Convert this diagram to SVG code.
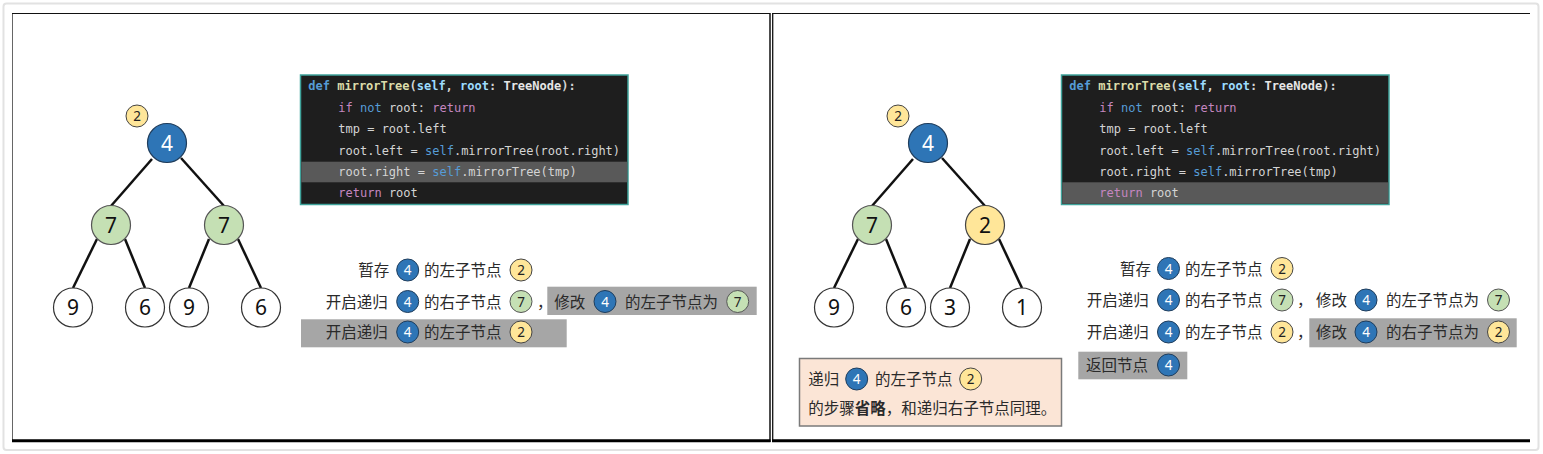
<svg xmlns="http://www.w3.org/2000/svg" xmlns:xlink="http://www.w3.org/1999/xlink" width="1543" height="454" viewBox="0 0 1543 454">
<style>
.frame{fill:#fff;stroke:#e2e2e2;stroke-width:2}
.edge{stroke:#111;stroke-width:2.5;fill:none}
.big{stroke-width:1.2}
.blue{fill:#2e75b6;stroke:#1f3d5c}
.green{fill:#c5e0b4;stroke:#555}
.yellow{fill:#ffe699;stroke:#444}
.white{fill:#fff;stroke:#333}
.sm{stroke-width:1}
.num{font-family:"Noto Sans","Open Sans",sans-serif;font-size:21px;text-anchor:middle;fill:#111}
.num.w{fill:#fff}
.snum{font-family:"Noto Sans","Open Sans",sans-serif;font-size:13.5px;text-anchor:middle;fill:#222}
.snum.w{fill:#fff}
.cn{font-family:"Noto Sans CJK SC",sans-serif;font-size:15.5px;fill:#2a2a2a}
.hl{fill:#a6a6a6}
.code{font-family:"DejaVu Sans Mono","Liberation Mono",monospace;font-size:12px;fill:#d4d4d4}
.b{font-weight:bold}
.kw{fill:#569cd6}
.fn{fill:#dcdcaa}
.pa{fill:#9cdcfe}
.ty{fill:#e6e6e6}
.ctl{fill:#c586c0}
.codebox{fill:#1e1e1e;stroke:#3fa39b;stroke-width:1.5}
.rowhl{fill:#595959}
.note{fill:#fbe5d6;stroke:#7a7a7a;stroke-width:1.5}
</style>
<defs>
<g id="codeText" class="code" xml:space="preserve">
<text x="308.3" y="90" class="b"><tspan class="kw">def</tspan> <tspan class="fn">mirrorTree</tspan>(<tspan class="pa">self</tspan>, <tspan class="pa">root</tspan>: <tspan class="ty">TreeNode</tspan>):</text>
<text x="338.3" y="111.5"><tspan class="ctl">if</tspan> <tspan class="kw">not</tspan> root: <tspan class="ctl">return</tspan></text>
<text x="338.3" y="133">tmp = root.left</text>
<text x="338.3" y="154.5">root.left = <tspan class="kw">self</tspan>.mirrorTree(root.right)</text>
<text x="338.3" y="176">root.right = <tspan class="kw">self</tspan>.mirrorTree(tmp)</text>
<text x="338.3" y="197"><tspan class="ctl">return</tspan> root</text>
</g>
</defs>

<rect class="frame" x="3.5" y="3.5" width="1535" height="446.5" rx="3"/>

<!-- panels -->
<g id="panels">
<line x1="12.5" y1="13.5" x2="12.5" y2="440" stroke="#666" stroke-width="1"/>
<line x1="12" y1="13.5" x2="770" y2="13.5" stroke="#111" stroke-width="1"/>
<line x1="770" y1="13" x2="770" y2="442" stroke="#111" stroke-width="1.5"/>
<line x1="12" y1="440.7" x2="770.5" y2="440.7" stroke="#000" stroke-width="3"/>
<line x1="772.7" y1="13" x2="772.7" y2="440" stroke="#111" stroke-width="1.3"/>
<line x1="772" y1="13.5" x2="1530" y2="13.5" stroke="#111" stroke-width="1"/>
<line x1="772" y1="440.7" x2="1530" y2="440.7" stroke="#000" stroke-width="3"/>
</g>

<!-- connectors -->
<g id="connectors" class="edge">
<line x1="152" y1="159" x2="111" y2="206"/>
<line x1="181" y1="158" x2="224" y2="206"/>
<line x1="97" y1="239" x2="73" y2="288"/>
<line x1="125" y1="239" x2="145" y2="288"/>
<line x1="209" y1="239" x2="189" y2="288"/>
<line x1="238" y1="239" x2="261" y2="288"/>
<line x1="913" y1="159" x2="872" y2="206"/>
<line x1="942" y1="158" x2="985" y2="206"/>
<line x1="858" y1="239" x2="834" y2="288"/>
<line x1="886" y1="239" x2="906" y2="288"/>
<line x1="970" y1="239" x2="950" y2="288"/>
<line x1="999" y1="239" x2="1022" y2="288"/>
</g>

<!-- left tree -->
<g id="L-tmp"><circle class="yellow sm" cx="137" cy="116" r="11"/><text class="snum" x="137" y="121">2</text></g>
<g id="L-n4"><circle class="blue big" cx="167" cy="143" r="19.5"/><text class="num w" x="167" y="150.5">4</text></g>
<g id="L-n7a"><circle class="green big" cx="111" cy="225" r="19.5"/><text class="num" x="111" y="232.5">7</text></g>
<g id="L-n7b"><circle class="green big" cx="224" cy="225" r="19.5"/><text class="num" x="224" y="232.5">7</text></g>
<g id="L-n9a"><circle class="white big" cx="73" cy="307.5" r="19.5"/><text class="num" x="73" y="315">9</text></g>
<g id="L-n6a"><circle class="white big" cx="145" cy="307.5" r="19.5"/><text class="num" x="145" y="315">6</text></g>
<g id="L-n9b"><circle class="white big" cx="189" cy="307.5" r="19.5"/><text class="num" x="189" y="315">9</text></g>
<g id="L-n6b"><circle class="white big" cx="261" cy="307.5" r="19.5"/><text class="num" x="261" y="315">6</text></g>

<!-- right tree -->
<g id="R-tmp"><circle class="yellow sm" cx="898" cy="116" r="11"/><text class="snum" x="898" y="121">2</text></g>
<g id="R-n4"><circle class="blue big" cx="928" cy="143" r="19.5"/><text class="num w" x="928" y="150.5">4</text></g>
<g id="R-n7"><circle class="green big" cx="872" cy="225" r="19.5"/><text class="num" x="872" y="232.5">7</text></g>
<g id="R-n2"><circle class="yellow big" cx="985" cy="225" r="19.5"/><text class="num" x="985" y="232.5">2</text></g>
<g id="R-n9"><circle class="white big" cx="834" cy="307.5" r="19.5"/><text class="num" x="834" y="315">9</text></g>
<g id="R-n6"><circle class="white big" cx="906" cy="307.5" r="19.5"/><text class="num" x="906" y="315">6</text></g>
<g id="R-n3"><circle class="white big" cx="950" cy="307.5" r="19.5"/><text class="num" x="950" y="315">3</text></g>
<g id="R-n1"><circle class="white big" cx="1022" cy="307.5" r="19.5"/><text class="num" x="1022" y="315">1</text></g>

<!-- left code -->
<g id="L-code">
<rect class="codebox" x="300.5" y="75" width="327.5" height="129.5"/>
<rect class="rowhl" x="301.3" y="161.7" width="326" height="20.6"/>
<use xlink:href="#codeText"/>
</g>

<!-- right code -->
<g id="R-code">
<rect class="codebox" x="1061.5" y="75" width="327.5" height="129.5"/>
<rect class="rowhl" x="1062.3" y="182.3" width="326" height="21.4"/>
<use xlink:href="#codeText" transform="translate(761,0)"/>
</g>

<!-- left steps -->
<g id="L-steps">
<rect class="hl" x="547.3" y="286.7" width="209.4" height="28.3"/>
<rect class="hl" x="301" y="319.3" width="265.7" height="28"/>
<text class="cn" x="358.3" y="276">暂存</text>
<circle class="blue sm" cx="407.7" cy="270" r="11"/><text class="snum w" x="407.7" y="275">4</text>
<text class="cn" x="424" y="276">的左子节点</text>
<circle class="yellow sm" cx="521" cy="270" r="11"/><text class="snum" x="521" y="275">2</text>

<text class="cn" x="325.7" y="307.5">开启递归</text>
<circle class="blue sm" cx="407.7" cy="301.5" r="11"/><text class="snum w" x="407.7" y="306.5">4</text>
<text class="cn" x="424" y="307.5">的右子节点</text>
<circle class="green sm" cx="521" cy="301.5" r="11"/><text class="snum" x="521" y="306.5">7</text>
<text class="cn" x="537" y="307.5" fill="#666">，</text>
<text class="cn" x="554.3" y="307.5">修改</text>
<circle class="blue sm" cx="605" cy="301.5" r="11"/><text class="snum w" x="605" y="306.5">4</text>
<text class="cn" x="625" y="307.5">的左子节点为</text>
<circle class="green sm" cx="737.7" cy="301.5" r="11"/><text class="snum" x="737.7" y="306.5">7</text>

<text class="cn" x="325.7" y="338">开启递归</text>
<circle class="blue sm" cx="407.7" cy="332" r="11"/><text class="snum w" x="407.7" y="337">4</text>
<text class="cn" x="424" y="338">的左子节点</text>
<circle class="yellow sm" cx="521" cy="332" r="11"/><text class="snum" x="521" y="337">2</text>
</g>

<!-- right steps -->
<g id="R-steps">
<rect class="hl" x="1309.3" y="318.3" width="207.4" height="29"/>
<rect class="hl" x="1078.3" y="351.7" width="109" height="27.6"/>
<text class="cn" x="1120" y="274.5">暂存</text>
<circle class="blue sm" cx="1168.5" cy="268.5" r="11"/><text class="snum w" x="1168.5" y="273.5">4</text>
<text class="cn" x="1185" y="274.5">的左子节点</text>
<circle class="yellow sm" cx="1282" cy="268.5" r="11"/><text class="snum" x="1282" y="273.5">2</text>

<text class="cn" x="1086.7" y="306">开启递归</text>
<circle class="blue sm" cx="1168.5" cy="300" r="11"/><text class="snum w" x="1168.5" y="305">4</text>
<text class="cn" x="1185" y="306">的右子节点</text>
<circle class="green sm" cx="1282" cy="300" r="11"/><text class="snum" x="1282" y="305">7</text>
<text class="cn" x="1297" y="306" fill="#666">，</text>
<text class="cn" x="1316" y="306">修改</text>
<circle class="blue sm" cx="1366" cy="300" r="11"/><text class="snum w" x="1366" y="305">4</text>
<text class="cn" x="1386" y="306">的左子节点为</text>
<circle class="green sm" cx="1498.5" cy="300" r="11"/><text class="snum" x="1498.5" y="305">7</text>

<text class="cn" x="1086.7" y="338">开启递归</text>
<circle class="blue sm" cx="1168.5" cy="332" r="11"/><text class="snum w" x="1168.5" y="337">4</text>
<text class="cn" x="1185" y="338">的左子节点</text>
<circle class="yellow sm" cx="1282" cy="332" r="11"/><text class="snum" x="1282" y="337">2</text>
<text class="cn" x="1297" y="338" fill="#666">，</text>
<text class="cn" x="1316" y="338">修改</text>
<circle class="blue sm" cx="1366" cy="332" r="11"/><text class="snum w" x="1366" y="337">4</text>
<text class="cn" x="1386" y="338">的右子节点为</text>
<circle class="yellow sm" cx="1498.5" cy="332" r="11"/><text class="snum" x="1498.5" y="337">2</text>

<text class="cn" x="1086" y="371">返回节点</text>
<circle class="blue sm" cx="1168.5" cy="365" r="11"/><text class="snum w" x="1168.5" y="370">4</text>
</g>

<!-- note -->
<g id="note">
<rect class="note" x="799.5" y="358.5" width="262" height="67.5"/>
<text class="cn" x="808.3" y="385">递归</text>
<circle class="blue sm" cx="856.7" cy="379" r="11"/><text class="snum w" x="856.7" y="384">4</text>
<text class="cn" x="875" y="385">的左子节点</text>
<circle class="yellow sm" cx="970.7" cy="379" r="11"/><text class="snum" x="970.7" y="384">2</text>
<text class="cn" x="808.3" y="414.3">的步骤<tspan font-weight="bold">省略</tspan>，和递归右子节点同理。</text>
</g>
</svg>
